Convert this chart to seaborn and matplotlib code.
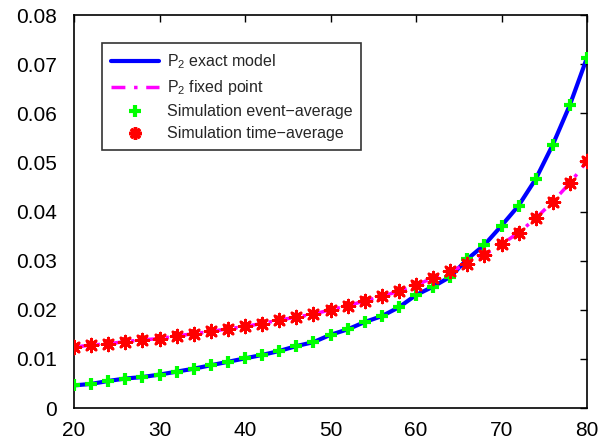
import numpy as np
import pandas as pd
import matplotlib
matplotlib.use("Agg")
import matplotlib.pyplot as plt
from matplotlib.lines import Line2D
import seaborn as sns

x_vals = list(range(20, 81, 2))
p2_exact = [0.0046, 0.0049, 0.0055, 0.0060, 0.0063, 0.0068, 0.0074, 0.0080, 0.0087, 0.0094,
            0.0101, 0.0108, 0.0116, 0.0126, 0.0134, 0.0149, 0.0160, 0.0175, 0.0187, 0.0205,
            0.0230, 0.0247, 0.0267, 0.0303, 0.0332, 0.0371, 0.0412, 0.0466, 0.0536, 0.0617, 0.0713]
p2_time = [0.0124, 0.0128, 0.0131, 0.0135, 0.0139, 0.0141, 0.0147, 0.0151, 0.0156, 0.0161,
           0.0166, 0.0172, 0.0179, 0.0185, 0.0191, 0.0200, 0.0208, 0.0218, 0.0227, 0.0238,
           0.0250, 0.0265, 0.0278, 0.0293, 0.0312, 0.0333, 0.0357, 0.0386, 0.0420, 0.0458, 0.0502]
x_ticks = [20, 30, 40, 50, 60, 70, 80]
y_ticks = [0, 0.01, 0.02, 0.03, 0.04, 0.05, 0.06, 0.07, 0.08]
y_labels = ["0", "0.01", "0.02", "0.03", "0.04", "0.05", "0.06", "0.07", "0.08"]
labels = ["P$_2$ exact model", "P$_2$ fixed point",
          "Simulation event\u2212average", "Simulation time\u2212average"]

sns.set_style("white")
plt.rcParams['font.family'] = ['Liberation Sans', 'DejaVu Sans']
plt.rcParams['mathtext.fontset'] = 'custom'
plt.rcParams['mathtext.rm'] = 'Liberation Sans'
plt.rcParams['mathtext.it'] = 'Liberation Sans'

df = pd.DataFrame({"x": x_vals, "exact": p2_exact, "time": p2_time})

fig = plt.figure(figsize=(6.07, 4.44), dpi=100)
ax = fig.add_axes([74/607, 1-408/444, (587-74)/607, (408-15)/444])

dashdot = (0, (4, 2.5, 1, 2.5))
sns.lineplot(data=df, x="x", y="exact", ax=ax, color="#0000ff", lw=3, zorder=2)
sns.lineplot(data=df, x="x", y="time", ax=ax, color="#ff00ff", lw=2.5, zorder=2)
ax.lines[-1].set_linestyle(dashdot)
sns.scatterplot(data=df, x="x", y="exact", ax=ax, marker="+", s=75, color="#00ff00",
                linewidth=3, zorder=3)
sns.scatterplot(data=df, x="x", y="time", ax=ax, marker="o", s=50, color="#ff0000",
                edgecolor="none", linewidth=0, zorder=4)
sns.scatterplot(data=df, x="x", y="time", ax=ax, marker=(8, 2, 0), s=85, color="#ff0000",
                edgecolor="#ff0000", linewidth=2, zorder=4)

ax.set_xlim(20, 80)
ax.set_ylim(0, 0.08)
ax.set_xticks(x_ticks)
ax.set_yticks(y_ticks)
ax.set_yticklabels(y_labels)
ax.set_xlabel("")
ax.set_ylabel("")
ax.tick_params(direction="in", top=True, right=True, length=5, width=1,
               labelsize=15, colors="black")
ax.tick_params(axis="y", pad=12)
ax.tick_params(axis="x", pad=9)
for s in ax.spines.values():
    s.set_color("black")
    s.set_linewidth(1.2)

handles = [
    Line2D([], [], color="#0000ff", lw=3),
    Line2D([], [], color="#ff00ff", lw=2.5, linestyle=dashdot),
    Line2D([], [], color="#00ff00", marker="+", markersize=9, mew=3, linestyle="none"),
    Line2D([], [], color="#ff0000", marker=(8, 2, 0), markersize=9, mew=2.5, linestyle="none"),
]
leg = ax.legend(handles, labels, loc="upper left", bbox_to_anchor=(0.039, 0.948),
                fontsize=11.5, frameon=True, fancybox=False, edgecolor="black",
                handlelength=3.0, handletextpad=0.5, borderpad=0.55, labelspacing=0.45)
leg.get_frame().set_linewidth(1.2)

fig.savefig("out.png", dpi=100)
